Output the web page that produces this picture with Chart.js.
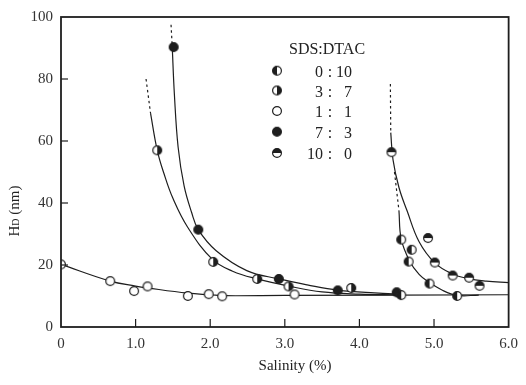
<!DOCTYPE html>
<html><head><meta charset="utf-8">
<script src="https://cdn.jsdelivr.net/npm/chart.js@4.4.0/dist/chart.umd.min.js"></script>
<style>html,body{margin:0;padding:0;background:#fff}#wrap{width:526px;height:385px;position:relative}</style>
</head><body><div id="wrap"><canvas id="c" width="526" height="385"></canvas></div>
<script>
// ---- axis ticks ----
const xTicks = [0, 1, 2, 3, 4, 5, 6];
const xTickLabels = ['0', '1.0', '2.0', '3.0', '4.0', '5.0', '6.0'];
const yTicks = [0, 20, 40, 60, 80, 100];
const xTitle = 'Salinity (%)';
const legendTitle = 'SDS:DTAC';
const legendLabels = [['0', '10'], ['3', '7'], ['1', '1'], ['7', '3'], ['10', '0']];

// ---- measured points (salinity %, HD nm) ----
const sal_0_10 = [4.56, 4.70, 4.66, 4.94, 5.31, 4.56];
const hd_0_10  = [28.2, 24.9, 21.1, 14.0, 10.0, 10.3];
const sal_3_7  = [1.29, 2.04, 2.63, 3.05, 3.89];
const hd_3_7   = [57.0, 21.0, 15.5, 13.1, 12.6];
const sal_1_1  = [0.0, 0.66, 0.98, 1.16, 1.70, 1.98, 2.16, 3.13];
const hd_1_1   = [20.2, 14.8, 11.6, 13.1, 10.0, 10.6, 9.9, 10.5];
const sal_7_3  = [1.51, 1.84, 2.92, 3.71, 4.50];
const hd_7_3   = [90.3, 31.4, 15.5, 11.8, 11.2];
const sal_10_0 = [4.43, 4.92, 5.01, 5.25, 5.47, 5.61];
const hd_10_0  = [56.4, 28.7, 20.8, 16.6, 15.9, 13.3];

// ---- fitted curves ----
const cx_1_1 = [0.0, 0.66, 1.0, 1.16, 1.7, 2.0, 2.2, 3.0, 6.0];
const cy_1_1 = [20.2, 14.8, 13.2, 12.6, 10.9, 10.4, 10.1, 10.2, 10.4];
const cx_7_3 = [1.49, 1.52, 1.57, 1.65, 1.75, 1.84, 2.08, 2.49, 2.92, 3.30, 3.71, 4.20, 4.60];
const cy_7_3 = [91.0, 75.0, 58.0, 45.5, 37.0, 31.4, 24.6, 18.2, 15.5, 13.6, 11.9, 11.0, 10.6];
const dx_7_3 = [1.475, 1.49];
const dy_7_3 = [97.5, 91.0];
const cx_3_7 = [1.20, 1.29, 1.38, 1.50, 1.70, 2.03, 2.30, 2.63, 3.05, 3.50, 4.00, 4.50];
const cy_3_7 = [69.0, 57.0, 49.5, 41.5, 32.1, 21.8, 18.0, 15.5, 13.2, 11.3, 10.6, 10.4];
const dx_3_7 = [1.14, 1.20];
const dy_3_7 = [80.0, 69.0];
const cx_10_0 = [4.42, 4.45, 4.53, 4.64, 4.80, 5.01, 5.24, 5.46, 5.70, 6.0];
const cy_10_0 = [62.7, 54.0, 45.0, 37.4, 27.5, 20.7, 17.2, 15.6, 14.8, 14.3];
const dx_10_0 = [4.415, 4.42];
const dy_10_0 = [78.4, 62.7];
const cx_0_10 = [4.53, 4.56, 4.67, 4.80, 4.93, 5.10, 5.31, 5.60];
const cy_0_10 = [37.5, 28.4, 21.4, 17.0, 14.5, 12.0, 10.2, 10.3];
const dx_0_10 = [4.47, 4.53];
const dy_0_10 = [50.0, 37.5];

const INK = '#1e1e1e';
function sym(kind) {
  const c = document.createElement('canvas');
  c.width = 12; c.height = 12;
  const g = c.getContext('2d');
  const r = 4.4;
  g.beginPath(); g.arc(6, 6, r, 0, Math.PI * 2);
  g.fillStyle = kind === 'full' ? INK : '#fff'; g.fill();
  g.fillStyle = INK;
  let a = null;
  if (kind === 'left') a = [Math.PI / 2, Math.PI * 1.5];
  if (kind === 'right') a = [-Math.PI / 2, Math.PI / 2];
  if (kind === 'top') a = [Math.PI, Math.PI * 2];
  if (a) { g.beginPath(); g.arc(6, 6, r, a[0], a[1]); g.closePath(); g.fill(); }
  g.beginPath(); g.arc(6, 6, r, 0, Math.PI * 2);
  g.lineWidth = 1.2; g.strokeStyle = INK; g.stroke();
  return c;
}
const symbols = [sym('left'), sym('right'), sym('open'), sym('full'), sym('top')];

const pts = (xs, ys) => xs.map((x, i) => ({x: x, y: ys[i]}));
function curve(xs, ys, dashed) {
  return {data: pts(xs, ys), showLine: true, borderColor: INK, borderWidth: 1.2,
    borderDash: dashed ? [2.5, 3] : [], pointRadius: 0, fill: false,
    tension: dashed ? 0 : 0.4, order: 2};
}
function marks(xs, ys, s) {
  return {data: pts(xs, ys), showLine: false, pointStyle: s, pointRadius: 6, order: 0};
}

const SERIF = '"Liberation Serif", "DejaVu Serif", serif';

const decor = {
  id: 'decor',
  afterDraw(chart) {
    const ctx = chart.ctx, a = chart.chartArea;
    const xs = chart.scales.x, ys = chart.scales.y;
    ctx.save();
    ctx.strokeStyle = INK; ctx.lineWidth = 1.8;
    ctx.strokeRect(a.left, a.top, a.right - a.left, a.bottom - a.top);
    ctx.lineWidth = 1.2;
    xTicks.forEach(v => { if (v === 0 || v === 6) return; const p = xs.getPixelForValue(v);
      ctx.beginPath(); ctx.moveTo(p, a.bottom); ctx.lineTo(p, a.bottom - 8); ctx.stroke(); });
    yTicks.forEach(v => { if (v === 0 || v === 100) return; const p = ys.getPixelForValue(v);
      ctx.beginPath(); ctx.moveTo(a.left, p); ctx.lineTo(a.left + 7, p); ctx.stroke(); });
    // legend
    ctx.fillStyle = '#222';
    ctx.font = '16px ' + SERIF;
    ctx.textBaseline = 'alphabetic';
    ctx.textAlign = 'left';
    ctx.fillText(legendTitle, 289, 54);
    const rows = [70.7, 90.5, 111, 131.7, 153];
    legendLabels.forEach((lab, i) => {
      ctx.drawImage(symbols[i], 277 - 6, rows[i] - 6);
      const by = rows[i] + 6;
      ctx.textAlign = 'right'; ctx.fillText(lab[0], 323, by);
      ctx.textAlign = 'center'; ctx.fillText(':', 330, by);
      ctx.textAlign = 'right'; ctx.fillText(lab[1], 352, by);
    });
    // axis titles
    ctx.textAlign = 'center';
    ctx.font = '15px ' + SERIF;
    ctx.fillText(xTitle, 295, 370);
    ctx.translate(19, 211); ctx.rotate(-Math.PI / 2);
    const f1 = '15px ' + SERIF, f2 = '10px ' + SERIF;
    ctx.font = f1; const wH = ctx.measureText('H').width; const wR = ctx.measureText(' (nm)').width;
    ctx.font = f2; const wD = ctx.measureText('D').width;
    let x0 = -(wH + wD + wR) / 2;
    ctx.textAlign = 'left';
    ctx.font = f1; ctx.fillText('H', x0, 0);
    ctx.font = f2; ctx.fillText('D', x0 + wH, 0);
    ctx.font = f1; ctx.fillText(' (nm)', x0 + wH + wD, 0);
    ctx.restore();
  }
};

new Chart(document.getElementById('c'), {
  type: 'scatter',
  data: {datasets: [
    curve(cx_1_1, cy_1_1, false),
    curve(cx_7_3, cy_7_3, false), curve(dx_7_3, dy_7_3, true),
    curve(cx_3_7, cy_3_7, false), curve(dx_3_7, dy_3_7, true),
    curve(cx_10_0, cy_10_0, false), curve(dx_10_0, dy_10_0, true),
    curve(cx_0_10, cy_0_10, false), curve(dx_0_10, dy_0_10, true),
    marks(sal_0_10, hd_0_10, symbols[0]),
    marks(sal_3_7, hd_3_7, symbols[1]),
    marks(sal_1_1, hd_1_1, symbols[2]),
    marks(sal_7_3, hd_7_3, symbols[3]),
    marks(sal_10_0, hd_10_0, symbols[4])
  ]},
  options: {
    responsive: false, animation: false, devicePixelRatio: 1, events: [],
    layout: {padding: {top: 14, right: 10, left: 0, bottom: 0}},
    plugins: {legend: {display: false}, tooltip: {enabled: false}},
    scales: {
      x: {type: 'linear', min: 0, max: 6,
        afterBuildTicks: s => { s.ticks = xTicks.map(v => ({value: v})); },
        afterFit: s => { s.height = 58; },
        grid: {display: false, drawTicks: false}, border: {display: false},
        ticks: {autoSkip: false, maxRotation: 0, padding: 8, color: '#333',
          font: {family: SERIF, size: 15},
          callback: v => xTickLabels[xTicks.indexOf(v)]}},
      y: {type: 'linear', min: 0, max: 100,
        afterBuildTicks: s => { s.ticks = yTicks.map(v => ({value: v})); },
        afterFit: s => { s.width = 61; },
        grid: {display: false, drawTicks: false}, border: {display: false},
        ticks: {autoSkip: false, padding: 8, color: '#333',
          font: {family: SERIF, size: 15}, callback: v => String(v)}}
    }
  },
  plugins: [decor]
});
</script></body></html>
